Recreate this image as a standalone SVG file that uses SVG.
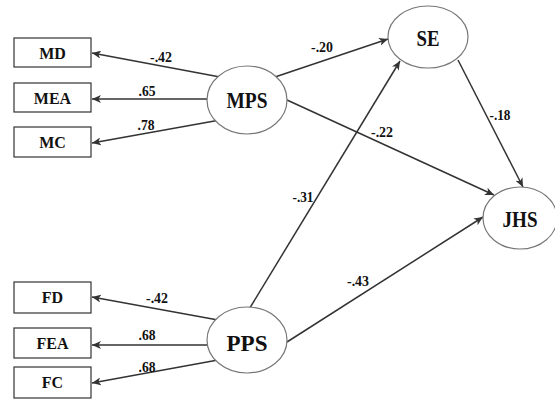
<svg xmlns="http://www.w3.org/2000/svg" width="555" height="408" viewBox="0 0 555 408">
  <style>
    .box { fill: #fff; stroke: #333; stroke-width: 1.2; }
    .lat { fill: #fff; stroke: #777; stroke-width: 1.2; }
    .edge { fill: none; stroke: #333; stroke-width: 1.5; marker-end: url(#arr); }
    .t { font-family: 'Liberation Serif', 'Times New Roman', 'DejaVu Serif', serif; font-weight: 700; fill: #111; text-anchor: middle; }
    .bt { font-size: 16px; }
    .lt { font-size: 24px; }
    .et { font-size: 15px; }
  </style>
  <defs>
    <marker id="arr" markerWidth="10" markerHeight="8" refX="9" refY="4" orient="auto" markerUnits="userSpaceOnUse">
      <path d="M0,0 L9,4 L0,8 L2.5,4 z" fill="#333"/>
    </marker>
  </defs>

  <g id="connectors">
    <line class="edge" x1="220" y1="77" x2="92" y2="53"/>
    <line class="edge" x1="207" y1="99" x2="92" y2="99"/>
    <line class="edge" x1="220" y1="120" x2="92" y2="143"/>
    <line class="edge" x1="275" y1="77" x2="388" y2="39"/>
    <line class="edge" x1="287" y1="100" x2="494" y2="195"/>
    <line class="edge" x1="458" y1="60" x2="523" y2="187"/>
    <line class="edge" x1="248" y1="311" x2="400" y2="61"/>
    <line class="edge" x1="287" y1="342" x2="483" y2="217"/>
    <line class="edge" x1="218" y1="320" x2="92" y2="297"/>
    <line class="edge" x1="207" y1="345" x2="92" y2="345"/>
    <line class="edge" x1="218" y1="360" x2="92" y2="383"/>
  </g>

  <g id="edge-labels" class="t et">
    <text x="161" y="62" textLength="22" lengthAdjust="spacingAndGlyphs">-.42</text>
    <text x="147" y="96" textLength="17" lengthAdjust="spacingAndGlyphs">.65</text>
    <text x="146" y="130" textLength="17" lengthAdjust="spacingAndGlyphs">.78</text>
    <text x="322" y="52" textLength="22" lengthAdjust="spacingAndGlyphs">-.20</text>
    <text x="382" y="137" textLength="22" lengthAdjust="spacingAndGlyphs">-.22</text>
    <text x="500" y="120" textLength="21" lengthAdjust="spacingAndGlyphs">-.18</text>
    <text x="303" y="202" textLength="21" lengthAdjust="spacingAndGlyphs">-.31</text>
    <text x="358" y="286" textLength="22" lengthAdjust="spacingAndGlyphs">-.43</text>
    <text x="157" y="303" textLength="22" lengthAdjust="spacingAndGlyphs">-.42</text>
    <text x="147" y="340" textLength="17" lengthAdjust="spacingAndGlyphs">.68</text>
    <text x="147" y="372" textLength="17" lengthAdjust="spacingAndGlyphs">.68</text>
  </g>

  <g id="MD"><rect class="box" x="14" y="38" width="77" height="29"/><text class="t bt" x="52.5" y="58.5">MD</text></g>
  <g id="MEA"><rect class="box" x="14" y="83" width="77" height="29"/><text class="t bt" x="52.5" y="103.5">MEA</text></g>
  <g id="MC"><rect class="box" x="14" y="127" width="77" height="30"/><text class="t bt" x="52.5" y="148">MC</text></g>

  <g id="FD"><rect class="box" x="14" y="282" width="77" height="31"/><text class="t bt" x="52.5" y="303">FD</text></g>
  <g id="FEA"><rect class="box" x="14" y="328" width="77" height="30"/><text class="t bt" x="52.5" y="349">FEA</text></g>
  <g id="FC"><rect class="box" x="14" y="367" width="77" height="31"/><text class="t bt" x="52.5" y="388">FC</text></g>

  <g id="MPS"><ellipse class="lat" cx="247" cy="100" rx="40" ry="34"/><text class="t lt" x="247" y="108" textLength="41" lengthAdjust="spacingAndGlyphs">MPS</text></g>
  <g id="PPS"><ellipse class="lat" cx="247" cy="340" rx="40" ry="33"/><text class="t lt" x="247" y="351" textLength="41" lengthAdjust="spacingAndGlyphs">PPS</text></g>
  <g id="SE"><ellipse class="lat" cx="428" cy="37" rx="40" ry="31"/><text class="t lt" x="428" y="46" textLength="23" lengthAdjust="spacingAndGlyphs">SE</text></g>
  <g id="JHS"><ellipse class="lat" cx="520" cy="218" rx="37" ry="31"/><text class="t lt" x="520" y="227" textLength="35" lengthAdjust="spacingAndGlyphs">JHS</text></g>
</svg>
